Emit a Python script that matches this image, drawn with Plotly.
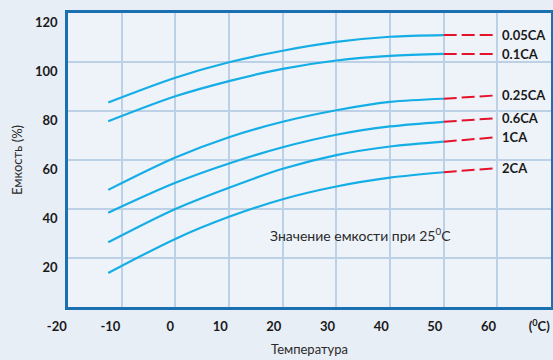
import plotly.graph_objects as go

# ---- data ----
temps = [-12.5, 0, 10, 20, 30, 40, 50]
series_names = ["0.05CA", "0.1CA", "0.25CA", "0.6CA", "1CA", "2CA"]
cap_005 = [83.5, 93.6, 99.9, 104.6, 108.2, 110.3, 111.0]
cap_01 = [75.8, 86.0, 92.2, 97.2, 100.6, 102.5, 103.3]
cap_025 = [47.8, 61.0, 69.3, 75.6, 80.3, 83.7, 85.0]
cap_06 = [38.5, 50.7, 58.6, 65.2, 70.3, 73.7, 75.6]
cap_1 = [26.4, 40.0, 48.7, 56.4, 62.0, 65.5, 67.5]
cap_2 = [13.9, 27.8, 36.8, 44.0, 49.2, 52.8, 55.0]

ext_temps = [50, 60]
ext_005 = [111.0, 111.0]
ext_01 = [103.3, 103.3]
ext_025 = [85.0, 86.4]
ext_06 = [75.6, 77.1]
ext_1 = [67.5, 69.3]
ext_2 = [55.0, 56.7]

x_tickvals = [-20, -10, 0, 10, 20, 30, 40, 50, 60, 70]
x_ticktext = ["-20", "-10", "0", "10", "20", "30", "40", "50", "60", "(<sup>0</sup>C)"]
y_tickvals = [20, 40, 60, 80, 100, 120]
y_ticktext = ["20", "40", "60", "80", "100", "120"]

note_text = "Значение емкости при 25<sup>0</sup>C"
note_pos = (17.3, 29.4)
x_title = "Температура"
y_title = "Емкость (%)"

curves = [cap_005, cap_01, cap_025, cap_06, cap_1, cap_2]
exts = [ext_005, ext_01, ext_025, ext_06, ext_1, ext_2]

FONT = "Lato, 'Open Sans', sans-serif"
BLUE = "#14ade5"
RED = "#e5122b"

fig = go.Figure()
for name, ys in zip(series_names, curves):
    fig.add_trace(go.Scatter(x=temps, y=ys, mode="lines", name=name,
                             line=dict(color=BLUE, width=2.2, shape="spline", smoothing=0.9),
                             showlegend=False, hoverinfo="skip"))
for name, ys in zip(series_names, exts):
    fig.add_trace(go.Scatter(x=ext_temps, y=ys, mode="lines", name=name + " ext",
                             line=dict(color=RED, width=2, dash="13px,5px"),
                             showlegend=False, hoverinfo="skip"))
    fig.add_annotation(x=ext_temps[-1], y=ys[-1], text="<b>" + name + "</b>",
                       xanchor="left", yanchor="middle", xshift=3, showarrow=False,
                       font=dict(family=FONT, size=13, color="#1a1a1a"))

fig.add_annotation(x=note_pos[0], y=note_pos[1], text=note_text, xanchor="left",
                   yanchor="middle", showarrow=False,
                   font=dict(family=FONT, size=14, color="#2a2a2a"))

fig.update_xaxes(range=[-20, 70], tickvals=x_tickvals, ticktext=x_ticktext,
                 ticklabelposition="outside left", ticks="", ticklabelstandoff=6,
                 automargin=False,
                 showline=True, mirror=True, linecolor="#1a70b0", linewidth=2.5,
                 showgrid=True, gridcolor="#bcd1e6", gridwidth=1.5, zeroline=False,
                 tickfont=dict(family=FONT, size=13, color="#1a1a1a", weight="bold"),
                 title=dict(text=x_title, standoff=12,
                            font=dict(family=FONT, size=13, color="#2a2a2a")))
fig.update_yaxes(range=[0, 120], tickvals=y_tickvals, ticktext=y_ticktext,
                 ticklabelposition="outside bottom", ticks="", ticklabelstandoff=5,
                 automargin=False,
                 showline=True, mirror=True, linecolor="#1a70b0", linewidth=2.5,
                 showgrid=True, gridcolor="#bcd1e6", gridwidth=1.5, zeroline=False,
                 tickfont=dict(family=FONT, size=13, color="#1a1a1a", weight="bold"),
                 title=dict(text=y_title, standoff=10,
                            font=dict(family=FONT, size=13, color="#2a2a2a")))

fig.update_layout(width=553, height=360, margin=dict(l=68, r=2, t=13, b=53),
                  paper_bgcolor="#e7eef6", plot_bgcolor="#edf3f9",
                  font=dict(family=FONT))

fig.write_html("out.html", config={"displayModeBar": False},
               post_script="document.body.style.margin='0';")
